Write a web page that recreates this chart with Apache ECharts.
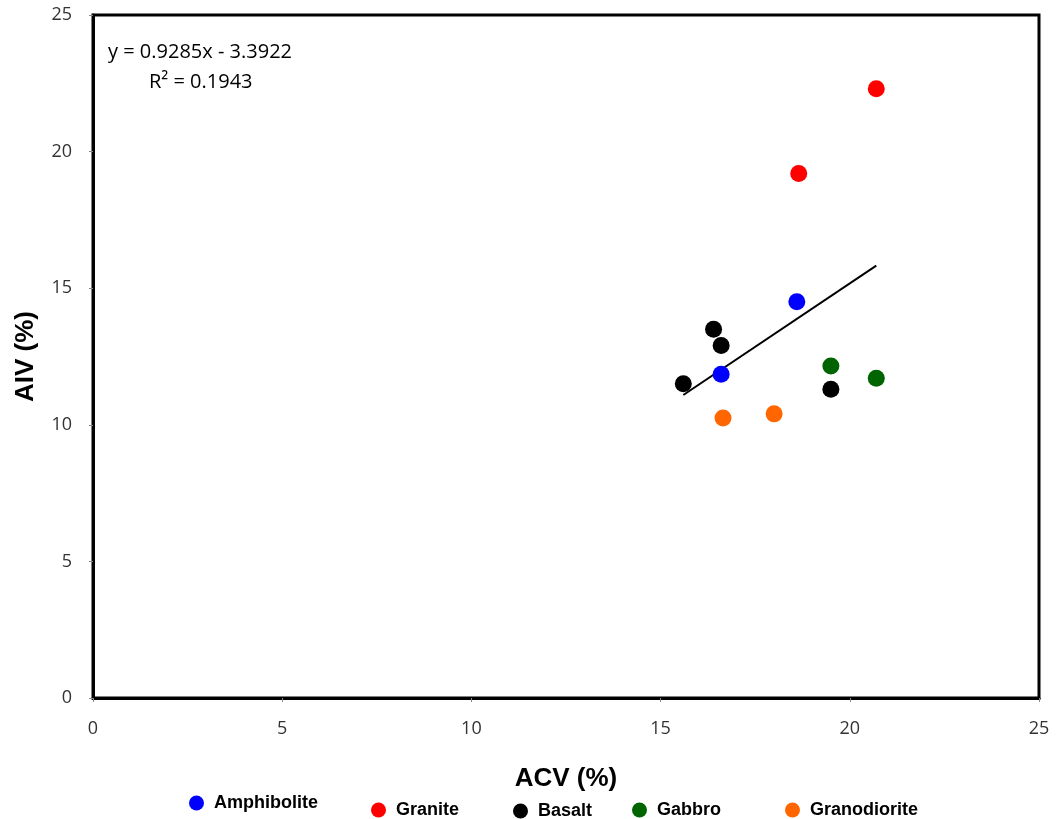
<!DOCTYPE html>
<html><head><meta charset="utf-8">
<script src="https://cdn.jsdelivr.net/npm/echarts@6/dist/echarts.min.js"></script>
<style>html,body{margin:0;padding:0;background:#fff}#c{width:1056px;height:819px}</style>
</head><body><div id="c"></div>
<script>
const seriesNames = ['Amphibolite','Granite','Basalt','Gabbro','Granodiorite'];
const seriesColors = ['#0000FF','#FF0000','#000000','#006400','#FF6600'];
const amphibolite = [[16.6,11.85],[18.6,14.5]];
const granite = [[18.65,19.2],[20.7,22.3]];
const basalt = [[15.6,11.5],[16.4,13.5],[16.6,12.9],[19.5,11.3]];
const gabbro = [[19.5,12.15],[20.7,11.7]];
const granodiorite = [[16.65,10.25],[18.0,10.4]];
const trendCoef = [0.9285, -3.3922];
const trendRange = [15.6, 20.7];
const xTicks = [0,5,10,15,20,25];
const yTicks = [0,5,10,15,20,25];
const eqText = 'y = 0.9285x - 3.3922';
const r2Text = 'R² = 0.1943';

const allData = [amphibolite, granite, basalt, gabbro, granodiorite];
const trend = trendRange.map(x => [x, trendCoef[0]*x + trendCoef[1]]);

const chart = echarts.init(document.getElementById('c'));
const legendLefts = [184, 366, 508, 627, 780];
const legendTops = [789, 796, 797, 796, 796];
const legends = seriesNames.map((n,i)=>({
  data:[{name:n, icon:'circle'}], left:legendLefts[i], top:legendTops[i], orient:'horizontal',
  itemWidth:15, itemHeight:15, itemGap:0,
  textStyle:{fontFamily:'Liberation Sans', fontWeight:'bold', fontSize:18, color:'#000', padding:[0,0,0,5]},
  selectedMode:false
}));
chart.setOption({
  animation:false,
  backgroundColor:'#fff',
  grid:{left:93, right:17, top:15, bottom:121, show:true, borderColor:'#000', borderWidth:3},
  legend: legends,
  xAxis:{type:'value', min:0, max:25, interval:5, name:'ACV (%)', nameLocation:'middle', nameGap:68,
    nameTextStyle:{fontFamily:'Liberation Sans', fontWeight:'bold', fontSize:26, color:'#000'},
    axisLine:{show:true, onZero:false, lineStyle:{color:'#000', width:3}},
    axisTick:{show:true, length:4, lineStyle:{color:'#888'}},
    axisLabel:{fontFamily:'Open Sans', fontSize:18, color:'#333', margin:22},
    splitLine:{show:false}},
  yAxis:{type:'value', min:0, max:25, interval:5, name:'AIV (%)', nameLocation:'middle', nameGap:54,
    nameTextStyle:{fontFamily:'Liberation Sans', fontWeight:'bold', fontSize:26, color:'#000'},
    axisLine:{show:true, onZero:false, lineStyle:{color:'#000', width:3}},
    axisTick:{show:true, length:4, lineStyle:{color:'#888'}},
    axisLabel:{fontFamily:'Open Sans', fontSize:18, color:'#333', margin:21},
    splitLine:{show:false}},
  graphic:[
    {type:'text', left:108, top:42, style:{text:eqText, font:'20px "Open Sans"', fill:'#000'}},
    {type:'text', left:149, top:72, style:{text:r2Text, font:'20px "Open Sans"', fill:'#000'}}
  ],
  series: [
    {type:'line', name:'trend', data:trend, symbol:'none', lineStyle:{color:'#000', width:2}, z:1, silent:true},
    ...seriesNames.map((n,i)=>({
      type:'scatter', name:n, data:allData[i], symbol:'circle', symbolSize:17,
      itemStyle:{color:seriesColors[i], opacity:1}, z:3
    }))
  ]
});
</script></body></html>
